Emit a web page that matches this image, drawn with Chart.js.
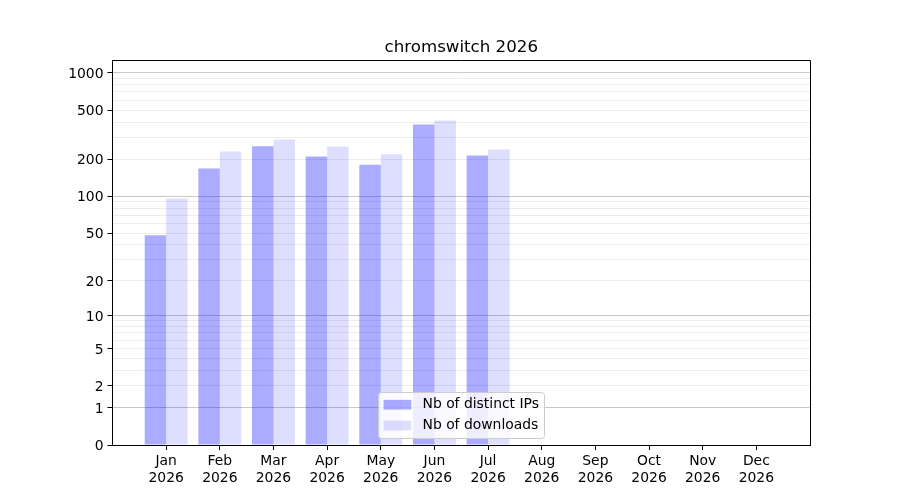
<!DOCTYPE html>
<html>
<head>
<meta charset="utf-8">
<script src="https://cdn.jsdelivr.net/npm/chart.js@4/dist/chart.umd.min.js"></script>
<style>
  html, body { margin: 0; padding: 0; background: #fff; }
</style>
</head>
<body>
<canvas id="chart" width="900" height="500"></canvas>
<script>
// values
var months = ["Jan", "Feb", "Mar", "Apr", "May", "Jun", "Jul", "Aug", "Sep", "Oct", "Nov", "Dec"];
var year = "2026";
var distinctIPs = [48, 168, 255, 211, 181, 382, 215];
var downloads = [96, 231, 289, 254, 220, 411, 240];
var yLabelValues = [0, 1, 2, 5, 10, 20, 50, 100, 200, 500, 1000];
var yMajorValues = [1, 10, 100, 1000];
var yGridValues = [0, 1, 2, 3, 4, 5, 6, 7, 8, 9, 10, 20, 30, 40, 50, 60, 70, 80, 90,
    100, 200, 300, 400, 500, 600, 700, 800, 900, 1000];

Chart.defaults.font.family = '"DejaVu Sans", sans-serif';
Chart.defaults.color = '#000';

// y axis in the picture follows log10(1 + y)
function tf(v) {
    return Math.log10(1 + v);
}

class Log1pScale extends Chart.Scale {
    determineDataLimits() {
        this.min = this.options.min;
        this.max = this.options.max;
    }
    buildTicks() {
        return yGridValues.map(function(v) { return { value: v }; });
    }
    configure() {
        super.configure();
        this._startValue = tf(this.min);
        this._valueRange = tf(this.max) - this._startValue;
    }
    getPixelForValue(value) {
        return this.getPixelForDecimal((tf(value) - this._startValue) / this._valueRange);
    }
    getValueForPixel(pixel) {
        return Math.pow(10, this._startValue + this.getDecimalForPixel(pixel) * this._valueRange) - 1;
    }
}
Log1pScale.id = 'log1p';
Log1pScale.defaults = {};
Chart.register(Log1pScale);

function toPoints(values) {
    return values.map(function(v, i) { return { x: i, y: v }; });
}

//Top and right spines, then the legend box inside the plot
var framePlugin = {
    id: 'frameAndLegend',
    afterDraw: function(chart) {
        var ctx = chart.ctx;
        var area = chart.chartArea;
        var top = Math.floor(area.top) + 0.5;
        var right = Math.floor(area.right) + 0.5;
        ctx.save();
        ctx.strokeStyle = '#000';
        ctx.lineWidth = 1;
        ctx.beginPath();
        ctx.moveTo(area.left, top);
        ctx.lineTo(right, top);
        ctx.lineTo(right, area.bottom + 0.5);
        ctx.stroke();

        var fs = 13.9;
        var sets = chart.data.datasets;
        ctx.font = fs + 'px "DejaVu Sans"';
        var textW = Math.max.apply(null, sets.map(function(d) { return ctx.measureText(d.label).width; }));
        var pad = 0.4 * fs, handle = 2 * fs, gap = 0.8 * fs, rowH = fs, spacing = 0.5 * fs;
        var w = 2 * pad + handle + gap + textW;
        var h = 2 * pad + sets.length * rowH + (sets.length - 1) * spacing;
        var x = (area.left + area.right) / 2 - w / 2;
        var y = area.bottom - 0.5 * fs - h;

        ctx.beginPath();
        ctx.roundRect(Math.round(x) + 0.5, Math.round(y) + 0.5, Math.round(w), Math.round(h), 3);
        ctx.fillStyle = 'rgba(255,255,255,0.8)';
        ctx.fill();
        ctx.strokeStyle = '#cccccc';
        ctx.stroke();

        sets.forEach(function(d, i) {
            var cy = y + pad + i * (rowH + spacing) + rowH / 2;
            ctx.fillStyle = d.backgroundColor;
            ctx.fillRect(x + pad, cy - 0.35 * fs, handle, 0.7 * fs);
            ctx.fillStyle = '#000';
            ctx.textBaseline = 'middle';
            ctx.textAlign = 'left';
            ctx.fillText(d.label, x + pad + handle + gap, cy);
        });
        ctx.restore();
    }
};

new Chart(document.getElementById('chart'), {
    type: 'bar',
    data: {
        datasets: [{
            label: 'Nb of distinct IPs',
            data: toPoints(distinctIPs),
            backgroundColor: 'rgba(0,0,255,0.33)',
            borderWidth: 0
        }, {
            label: 'Nb of downloads',
            data: toPoints(downloads),
            backgroundColor: 'rgba(0,0,255,0.13)',
            borderWidth: 0
        }]
    },
    options: {
        responsive: false,
        animation: false,
        categoryPercentage: 0.8,
        barPercentage: 1.0,
        layout: {
            padding: { top: 0, right: 90, bottom: 0, left: 0 }
        },
        plugins: {
            legend: { display: false },
            tooltip: { enabled: false },
            title: {
                display: true,
                fullSize: false,
                text: 'chromswitch 2026',
                color: '#000',
                font: { size: 16.67, weight: 'normal' },
                padding: { top: 37.2, bottom: 2.8 }
            }
        },
        scales: {
            x: {
                type: 'linear',
                min: -1,
                max: 12,
                offset: false,
                afterBuildTicks: function(scale) {
                    scale.ticks = months.map(function(m, i) { return { value: i }; });
                },
                afterFit: function(scale) {
                    scale.height = 55;
                },
                ticks: {
                    autoSkip: false,
                    maxRotation: 0,
                    padding: 3,
                    font: { size: 13.9 },
                    callback: function(v) {
                        return [months[v], year];
                    }
                },
                grid: {
                    drawOnChartArea: false,
                    drawTicks: true,
                    tickLength: 5,
                    tickColor: '#000',
                    offset: false
                },
                border: { color: '#000', width: 1 }
            },
            y: {
                type: 'log1p',
                min: 0,
                max: 1268,
                afterFit: function(scale) {
                    scale.width = 112.5;
                },
                ticks: {
                    autoSkip: false,
                    padding: 4,
                    labelOffset: 1.5,
                    font: { size: 13.9 },
                    callback: function(v) {
                        return yLabelValues.indexOf(v) >= 0 ? String(v) : '';
                    }
                },
                grid: {
                    lineWidth: 1,
                    tickLength: 5,
                    color: function(c) {
                        if (!c.tick) return '#ececec';
                        return yMajorValues.indexOf(c.tick.value) >= 0 ? '#c8c8c8' : '#ececec';
                    },
                    tickColor: function(c) {
                        if (!c.tick) return 'rgba(0,0,0,0)';
                        return yLabelValues.indexOf(c.tick.value) >= 0 ? '#000' : 'rgba(0,0,0,0)';
                    }
                },
                border: { color: '#000', width: 1 }
            }
        }
    },
    plugins: [framePlugin]
});
</script>
</body>
</html>
